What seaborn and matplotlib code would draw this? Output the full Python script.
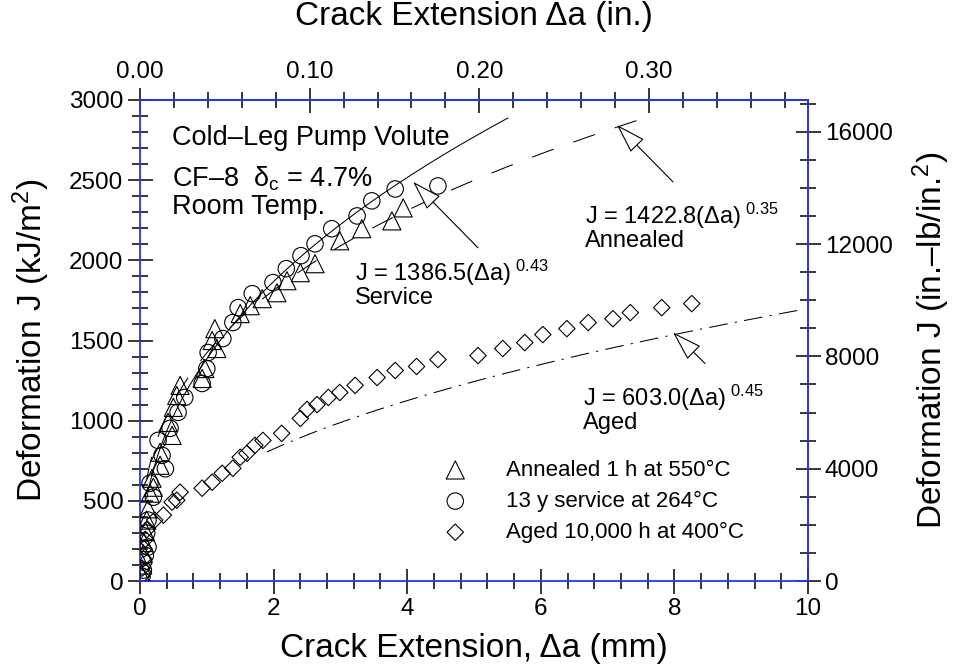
import numpy as np
import pandas as pd
import matplotlib
matplotlib.use("Agg")
import matplotlib.pyplot as plt
from matplotlib.ticker import MultipleLocator, FormatStrFormatter
import seaborn as sns

# ---- measured J-R data (crack extension in mm, J in kJ/m^2) ----
annealed_da = [0.02, 0.04, 0.05, 0.06, 0.08, 0.10, 0.12, 0.15, 0.20, 0.18, 0.30, 0.30,
               0.48, 0.42, 0.50, 0.55, 0.60, 0.93, 0.97, 1.15, 1.08, 1.12, 1.50, 1.65,
               1.83, 2.05, 2.20, 2.40, 2.62, 2.99, 3.32, 3.77, 3.94]
annealed_j = [40, 100, 170, 240, 310, 380, 450, 548, 585, 641, 722, 803,
              908, 989, 1083, 1157, 1220, 1263, 1325, 1450, 1500, 1574, 1668, 1717,
              1761, 1798, 1873, 1923, 1979, 2122, 2197, 2246, 2327]

service_da = [0.03, 0.05, 0.05, 0.08, 0.12, 0.10, 0.12, 0.20, 0.15, 0.38, 0.33, 0.27,
              0.45, 0.57, 0.67, 0.93, 1.00, 1.02, 1.24, 1.39, 1.47, 1.68, 1.99, 2.19,
              2.41, 2.62, 2.87, 3.25, 3.47, 3.82, 4.46]
service_j = [30, 68, 118, 160, 212, 299, 380, 523, 610, 700, 784, 877,
             952, 1052, 1145, 1232, 1325, 1425, 1512, 1612, 1705, 1792, 1861, 1948,
             2029, 2103, 2197, 2277, 2371, 2445, 2464]

aged_da = [0.02, 0.03, 0.05, 0.06, 0.08, 0.10, 0.22, 0.35, 0.48, 0.55, 0.60, 0.93,
           1.08, 1.23, 1.39, 1.50, 1.60, 1.72, 1.84, 2.12, 2.40, 2.50, 2.65, 2.82,
           2.99, 3.22, 3.55, 3.82, 4.14, 4.46, 5.06, 5.43, 5.76, 6.03, 6.39, 6.71,
           7.08, 7.34, 7.81, 8.26]
aged_j = [30, 80, 140, 200, 260, 320, 380, 411, 492, 504, 554, 579,
          616, 672, 703, 772, 796, 846, 877, 921, 1014, 1070, 1100, 1145,
          1176, 1220, 1269, 1313, 1338, 1381, 1406, 1450, 1487, 1537, 1574, 1612,
          1636, 1674, 1705, 1730]

# ---- power-law fits J = C * (da)^n and the range each one is drawn over ----
fit_labels = ["Annealed", "Service", "Aged"]
fit_coef = [1422.8, 1386.5, 603.0]
fit_exp = [0.35, 0.43, 0.45]
fit_start = [0.1, 0.1, 1.9]
fit_end = [7.44, 5.51, 9.85]

legend_labels = ["Annealed 1 h at 550\u00b0C", "13 y service at 264\u00b0C",
                 "Aged 10,000 h at 400\u00b0C"]

KJ_TO_INLB = 5.7101   # kJ/m^2 -> in.-lb/in.^2
MM_PER_IN = 25.4

sns.set_theme(style="white")
plt.rcParams["font.family"] = ["Liberation Sans", "DejaVu Sans"]
plt.rcParams["mathtext.fontset"] = "custom"
plt.rcParams["mathtext.rm"] = "Liberation Sans"
plt.rcParams["mathtext.it"] = "Liberation Sans"
for key in ["text.color", "axes.labelcolor", "xtick.color", "ytick.color",
            "xtick.labelcolor", "ytick.labelcolor"]:
    plt.rcParams[key] = "black"

SPINE = "#2438e0"
TICK_FS = 17.5
LABEL_FS = 24
TEXT_FS = 17
LEGEND_FS = 16

fig = plt.figure(figsize=(9.57, 6.67), dpi=100)
ax = fig.add_axes([0.1463, 0.1289, 0.6980, 0.7212])

frames = {
    "annealed": pd.DataFrame({"da": annealed_da, "J": annealed_j}),
    "service": pd.DataFrame({"da": service_da, "J": service_j}),
    "aged": pd.DataFrame({"da": aged_da, "J": aged_j}),
}

sns.scatterplot(data=frames["annealed"], x="da", y="J", marker="^", s=170,
                fc="none", ec="black", linewidth=0.8, ax=ax, label=legend_labels[0],
                zorder=3)
sns.scatterplot(data=frames["service"], x="da", y="J", marker="o", s=140,
                fc="none", ec="black", linewidth=0.8, ax=ax, label=legend_labels[1],
                zorder=3)
sns.scatterplot(data=frames["aged"], x="da", y="J", marker="D", s=70,
                fc="none", ec="black", linewidth=0.8, ax=ax, label=legend_labels[2],
                zorder=3)

# fitted curves
styles = [dict(dashes=(22, 20)), dict(), dict(dashes=(18, 7, 2, 7))]
for c, n, a0, a1, st in zip(fit_coef, fit_exp, fit_start, fit_end, styles):
    da = np.linspace(a0, a1, 200)
    line, = ax.plot(da, c * da ** n, color="black", lw=0.75, zorder=2)
    if "dashes" in st:
        line.set_dashes(st["dashes"])

ax.set_xlim(0, 10)
ax.set_ylim(0, 3000)
ax.xaxis.set_major_locator(MultipleLocator(2))
ax.xaxis.set_minor_locator(MultipleLocator(0.4))
ax.yaxis.set_major_locator(MultipleLocator(500))
ax.yaxis.set_minor_locator(MultipleLocator(100))

for sp in ax.spines.values():
    sp.set_color(SPINE)
    sp.set_linewidth(1.3)

tick_major = dict(direction="inout", length=18, width=1.1, color="black",
                  labelsize=TICK_FS, pad=3)
tick_minor = dict(direction="inout", length=11, width=1.1, color="black")
ax.tick_params(axis="both", which="major", bottom=True, left=True, top=False,
               right=False, **tick_major)
ax.tick_params(axis="both", which="minor", bottom=True, left=True, top=False,
               right=False, **tick_minor)

ax.set_xlabel("Crack Extension, \u0394a (mm)", fontsize=LABEL_FS, labelpad=9.5)
ax.set_ylabel("Deformation J (kJ/m$^2$)", fontsize=LABEL_FS, labelpad=12)

# inch scale on top
top = ax.secondary_xaxis("top", functions=(lambda x: x / MM_PER_IN,
                                           lambda x: x * MM_PER_IN))
top.set_xticks([0.0, 0.1, 0.2, 0.3])
top.xaxis.set_minor_locator(MultipleLocator(0.02))
top.xaxis.set_major_formatter(FormatStrFormatter("%.2f"))
top.tick_params(which="major", **tick_major)
top.tick_params(which="minor", **tick_minor)
top.spines["top"].set_color(SPINE)
top.spines["top"].set_linewidth(1.3)
top.set_xlabel("Crack Extension \u0394a (in.)", fontsize=LABEL_FS, labelpad=26)

# in.-lb/in.^2 scale on the right
right = ax.secondary_yaxis("right", functions=(lambda y: y * KJ_TO_INLB,
                                               lambda y: y / KJ_TO_INLB))
right.set_yticks([0, 4000, 8000, 12000, 16000])
right.yaxis.set_minor_locator(MultipleLocator(1000))
right.tick_params(which="major", **tick_major)
right.tick_params(which="minor", **tick_minor)
right.spines["right"].set_color(SPINE)
right.spines["right"].set_linewidth(1.3)
right.set_ylabel("Deformation J (in.\u2013lb/in.$^2$)", fontsize=LABEL_FS,
                 labelpad=13)

# material description
ax.text(0.48, 2763, "Cold\u2013Leg Pump Volute", fontsize=19.5, va="center", ha="left")
ax.text(0.48, 2508, "CF\u20138  \u03b4$_\\mathregular{c}$ = 4.7%", fontsize=19.5,
        va="center", ha="left")
ax.text(0.48, 2335, "Room Temp.", fontsize=19.5, va="center", ha="left")

# fit equations
eq_pos = {"Service": (3.22, 1923), "Annealed": (6.66, 2278), "Aged": (6.63, 1139)}
for name, c, n in zip(fit_labels, fit_coef, fit_exp):
    x0, y0 = eq_pos[name]
    ax.text(x0, y0, f"J = {c:.1f}(\u0394a)$^{{\\mathregular{{\\ {n:.2f}}}}}$",
            fontsize=TEXT_FS, va="center", ha="left")
    ax.text(x0, y0 - 156, name, fontsize=TEXT_FS, va="center", ha="left")

# arrows pointing at each fitted curve (tip, tail)
arrows = [((4.09, 2489), (5.06, 2078)),
          ((7.14, 2844), (7.98, 2489)),
          ((7.98, 1550), (8.46, 1357))]
for tip, tail in arrows:
    ax.annotate("", xy=tip, xytext=tail,
                arrowprops=dict(arrowstyle="-|>,head_length=0.95,head_width=0.3",
                                mutation_scale=20, fc="white", ec="black", lw=0.8,
                                shrinkA=0, shrinkB=0), zorder=4)

leg = ax.legend(loc="upper left", bbox_to_anchor=(0.452, 0.252), frameon=False,
                fontsize=LEGEND_FS, handlelength=1.2, handletextpad=1.7,
                labelspacing=0.45, borderpad=0, borderaxespad=0)

fig.savefig("out.png", dpi=100)
